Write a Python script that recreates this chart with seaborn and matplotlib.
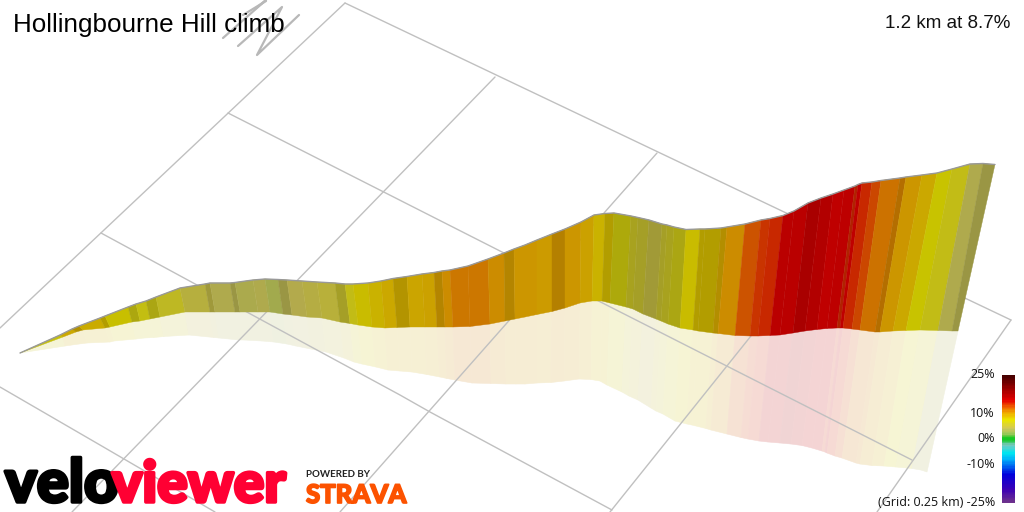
import matplotlib
matplotlib.use("Agg")
import matplotlib.pyplot as plt
import matplotlib.patheffects as pe
import numpy as np
import seaborn as sns
from matplotlib.colors import LinearSegmentedColormap

top_x = [20, 60, 72, 79, 100, 105, 128, 136, 146, 156, 180, 205, 210, 230, 235, 253, 265, 278, 287, 302,
         317, 335, 345, 353, 368, 381, 393, 407, 422, 434, 442, 450, 468, 488, 504, 514, 525, 537, 552, 565,
         581, 594, 605, 614, 631, 638, 649, 662, 667, 674, 686, 700, 705, 721, 727, 745, 761, 770, 783, 794,
         808, 821, 833, 844, 855, 858, 862, 872, 881, 900, 906, 922, 937, 952, 970, 983, 995]
top_y = [353, 335, 329, 326, 318, 316, 307, 304, 301, 297, 288, 284, 283, 283, 282.5, 280, 279, 279.5, 280, 281,
         282, 283, 284, 284, 283, 281, 278.5, 276.5, 274, 272.5, 271, 270, 266, 259, 253, 249, 245, 240, 234, 229,
         222, 215, 213.5, 213, 216, 217.5, 220, 224, 225, 227, 229.5, 229, 229, 228, 227, 224, 220, 218.5, 215.5, 211,
         203, 198, 194, 190, 186, 184.5, 183, 182, 180.5, 178, 177, 175, 173, 169, 164, 163.5, 164.5]
mid_x = [20, 63, 76, 83, 105, 110, 132, 140, 150, 160, 185, 210, 215, 235, 240, 258, 270, 283, 292, 307,
         322, 340, 350, 358, 372, 385, 397, 410, 425, 437, 445, 453, 470, 490, 505, 515, 525, 537, 552, 565,
         580, 592, 602, 610, 626, 633, 643, 656, 661, 668, 680, 693, 698, 713, 718, 735, 750, 758, 770, 780,
         793, 805, 817, 827, 837, 840, 843, 852, 860, 875, 880, 893, 906, 920, 938, 952, 958]
mid_y = [353, 337, 332, 330, 328, 327, 322, 321, 319, 317, 312, 312, 312, 312, 312, 312, 312, 314, 315, 317,
         318, 322, 323.5, 325, 327, 328, 327.5, 327, 327, 327, 327, 327, 326.5, 324, 321, 319, 317, 314.5, 311.5, 308,
         303, 301, 301, 303, 307, 309, 314, 319, 321, 324, 328, 330, 331, 333, 333.5, 335.5, 336, 336, 335.5, 335,
         333, 331, 329.5, 328.5, 328, 328, 328, 329, 330, 332, 332, 331, 330.5, 330, 330.5, 331, 331]
bot_x = [20, 65, 79, 87, 110, 114, 136, 144, 154, 164, 189, 214, 219, 239, 244, 262, 274, 287, 296, 311,
         326, 344, 354, 362, 376, 388, 400, 412, 427, 440, 447, 455, 472, 491, 506, 516, 525, 537, 551, 564,
         579, 591, 600, 607, 622, 629, 638, 651, 656, 663, 675, 687, 692, 706, 711, 727, 741, 748, 759, 768,
         780, 791, 802, 812, 822, 825, 827, 835, 842, 856, 860, 872, 884, 896, 912, 921, 927]
bot_y = [353, 346, 344, 343, 342, 341, 339, 338, 337.5, 336.5, 335, 337.5, 338, 340, 340, 341, 342, 344, 346, 349,
         352, 358, 362, 364, 367, 370, 371, 372, 374.5, 377, 378.5, 380, 383, 383.5, 384, 384, 384, 383, 382.5, 381,
         379, 379.5, 381, 385, 392, 396, 400, 408, 411, 414, 421, 424, 425, 428.5, 430, 434, 437.5, 439, 441, 442,
         443, 444, 445.5, 448, 451, 452, 453, 456, 458, 463, 464, 465.5, 466, 467, 468.5, 470, 472]

# gradient of the strip that starts at each station, percent
grades = [7, 9, 9.3, 8.8, 8.5, 7.8, 6.8, 6.8, 6.5, 6, 4.8, 4.5, 4, 4, 3.8, 4, 3.5, 4, 4.2, 4.5,
          5, 5.5, 6.5, 8, 8.5, 9, 9, 9.2, 9.5, 10, 10.5, 11.2, 11.3, 10.5, 10, 10, 10, 9.8, 10.3, 10,
          9.5, 8.5, 8.5, 7, 6, 5.5, 4.8, 5.5, 6, 6.5, 8, 8.5, 8.5, 9.5, 10.5, 12.5, 13.5, 14, 16, 16,
          17, 16.5, 15.5, 15.7, 14, 15.5, 14, 13, 11.5, 11, 10, 9, 7.5, 6.5, 4, 4]
# strips that look darker in the lit face
dark_strips = [2, 4, 6, 8, 11, 13, 17, 21, 26, 29, 34, 38, 42, 43, 44, 45, 46, 47, 48, 49, 51, 52, 53, 64, 69, 75]

# grid on the ground and north arrow
grid_x = [[345, 1011], [228, 912], [101, 400, 430, 612], [0, 100, 215], [0, 345], [72, 495], [340, 657], [610, 831], [877, 1011]]
grid_y = [[3, 320], [113, 460], [233, 395, 412, 510], [387, 445, 512], [328, 3], [512, 77], [512, 153], [512, 236], [512, 320]]
arrow_x = [[238, 282, 257, 299], [223, 266], [243, 266], [255, 266]]
arrow_y = [[46, 7, 55, 15], [38, 0], [15, 1], [9, 0]]

scale_levels = [25, 15.3, 12.7, 10, 7.5, 4.2, 2.2, 0.3, -1, -2.3, -5.5, -8, -10.7, -14, -20, -25]
scale_colors = ["#460000", "#e60000", "#f06000", "#f0b400", "#ebe600", "#d2c85a", "#a0c85a", "#14c81e",
                "#28c846", "#78c8be", "#00e6f0", "#00b4fa", "#0064f0", "#0000dc", "#3c00b4", "#6e328c"]
scale_labels = ["25%", "10%", "0%", "-10%", "(Grid: 0.25 km) -25%"]
scale_ticks = [25, 10, 0, -10, -25]

sns.set_theme(style="white")
plt.rcParams["font.family"] = ["Liberation Sans", "DejaVu Sans"]

cmap = LinearSegmentedColormap.from_list(
    "grade", [((g + 25) / 50, c) for g, c in zip(scale_levels[::-1], scale_colors[::-1])])


def grade_color(g, shade):
    c = np.array(cmap((g + 25) / 50)[:3])
    return tuple(c * shade)


def thick(w, col):
    return [pe.withStroke(linewidth=w, foreground=col)]


fig = plt.figure(figsize=(10.24, 5.12), dpi=100)
ax = fig.add_axes([0, 0, 1, 1])

for i, g in enumerate(grades):
    shade = 0.75 if i in dark_strips else 0.85
    col = grade_color(g, shade)
    # lit face
    ax.fill([top_x[i], top_x[i + 1], mid_x[i + 1], mid_x[i]],
            [top_y[i], top_y[i + 1], mid_y[i + 1], mid_y[i]],
            facecolor=col, edgecolor=col, lw=0.3, zorder=3)
    # pale wall below it, mixed with white by hand so neighbours do not double up
    pale = tuple(0.17 * np.array(grade_color(g, 0.85)) + 0.83)
    ax.fill([mid_x[i], mid_x[i + 1], bot_x[i + 1], bot_x[i]],
            [mid_y[i], mid_y[i + 1], bot_y[i + 1], bot_y[i]],
            facecolor=pale, edgecolor=pale, lw=0.4, zorder=1)

# grid shows through the wall but not the lit face
for gx, gy in zip(grid_x, grid_y):
    sns.lineplot(x=gx, y=gy, ax=ax, color="#c0c0c0", lw=1.0, sort=False, estimator=None, zorder=2)
for gx, gy in zip(arrow_x, arrow_y):
    sns.lineplot(x=gx, y=gy, ax=ax, color="#b8b8b8", lw=1.6, sort=False, estimator=None, zorder=2)

sns.lineplot(x=top_x, y=top_y, ax=ax, color="#999999", lw=1.0, sort=False, estimator=None, zorder=4)

ax.set_xlim(0, 1024)
ax.set_ylim(512, 0)
ax.axis("off")

ax.text(13, 32, "Hollingbourne Hill climb", fontsize=18.7, color="black", zorder=6)
ax.text(1010, 28, "1.2 km at 8.7%", fontsize=13.5, color="#111111", ha="right", zorder=6)

# logos, as text
ax.text(5, 502, "velo", fontsize=43, family="Lato", fontweight="black", color="black", zorder=6,
        path_effects=thick(2.5, "black"))
ax.text(112, 502, "viewer", fontsize=41, family="Lato", fontweight="black", color="#ff0033", zorder=7,
        path_effects=thick(2.5, "#ff0033"))
ax.text(306, 477, "POWERED BY", fontsize=7, family="Lato", fontweight="bold", color="#222222", zorder=6)
ax.text(306, 503, "STRAVA", fontsize=18.5, family="Lato", fontweight="black", color="#fc5200", zorder=6,
        path_effects=thick(1.2, "#fc5200"))

# slope scale
for lab, t in zip(scale_labels, scale_ticks):
    ax.text(995, 375 + (25 - t) * 2.56, lab, fontsize=9, family="Open Sans", color="#111111",
            ha="right", va="center", zorder=6)

cax = fig.add_axes([1002 / 1024, 1 - 503 / 512, 13 / 1024, 128 / 512])
ramp = np.arange(25, -25.5, -0.5).reshape(-1, 1)
sns.heatmap(ramp, ax=cax, cmap=cmap, vmin=-25, vmax=25, cbar=False, xticklabels=False, yticklabels=False)

fig.savefig("out.png", dpi=100)
